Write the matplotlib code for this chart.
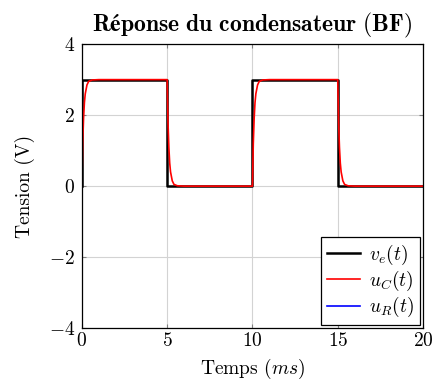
import matplotlib
matplotlib.use("Agg")
import matplotlib.pyplot as plt

# tension d'entree (creneau 0 / 3 V, periode 10 ms)
t_ve = [0, 0, 5, 5, 10, 10, 15, 15, 20]
ve = [0, 3, 3, 0, 0, 3, 3, 0, 0]

# tension du condensateur
t_uc = [0, 0.05, 0.1, 0.15, 0.2, 0.3, 0.4, 0.6, 1.0, 5.0,
        5.05, 5.1, 5.15, 5.2, 5.3, 5.4, 5.6, 6.0, 10.0,
        10.05, 10.1, 10.15, 10.2, 10.3, 10.4, 10.6, 11.0, 15.0,
        15.05, 15.1, 15.15, 15.2, 15.3, 15.4, 15.6, 16.0, 20.0]
uc = [0, 1.2, 1.9, 2.35, 2.6, 2.85, 2.95, 2.99, 3.0, 3.0,
      1.8, 1.1, 0.65, 0.4, 0.15, 0.05, 0.01, 0.0, 0.0,
      1.2, 1.9, 2.35, 2.6, 2.85, 2.95, 2.99, 3.0, 3.0,
      1.8, 1.1, 0.65, 0.4, 0.15, 0.05, 0.01, 0.0, 0.0]

xticks = [0, 5, 10, 15, 20]
yticks = [-4, -2, 0, 2, 4]

plt.rcParams['font.family'] = 'serif'
plt.rcParams['font.serif'] = ['cmr10', 'DejaVu Serif']
plt.rcParams['mathtext.fontset'] = 'cm'
plt.rcParams['axes.formatter.use_mathtext'] = True

fig = plt.figure(figsize=(4.33, 3.87), dpi=100)
ax = fig.add_axes([0.189, 0.152, 0.788, 0.734])

ax.plot(t_ve, ve, color='black', lw=1.8, label=r'$v_e(t)$')
ax.plot(t_uc, uc, color='red', lw=1.2, label=r'$u_C(t)$')
ax.plot([], [], color='blue', lw=1.2, label=r'$u_R(t)$')

ax.set_xlim(0, 20)
ax.set_ylim(-4, 4)
ax.set_xticks(xticks)
ax.set_yticks(yticks)
ax.grid(True, color='#d3d3d3', lw=0.8)
ax.set_axisbelow(True)
ax.tick_params(direction='in', length=3, color='#808080', labelsize=14,
               top=True, right=True, pad=5)
ax.tick_params(axis='x', pad=3)
for s in ax.spines.values():
    s.set_linewidth(0.9)

ax.set_xlabel(r'Temps ($ms$)', fontsize=14, labelpad=5)
ax.set_ylabel('Tension (V)', fontsize=14, labelpad=10)
ax.set_title(r'$\mathbf{Réponse\ du\ condensateur\ (BF)}$', fontsize=17, pad=9)

leg = ax.legend(loc='lower right', fontsize=14, fancybox=False, framealpha=1,
                edgecolor='black', handlelength=1.7, borderpad=0.3,
                labelspacing=0.1, handletextpad=0.5, borderaxespad=0.15)
leg.get_frame().set_linewidth(0.9)

fig.savefig('out.png', dpi=100)
